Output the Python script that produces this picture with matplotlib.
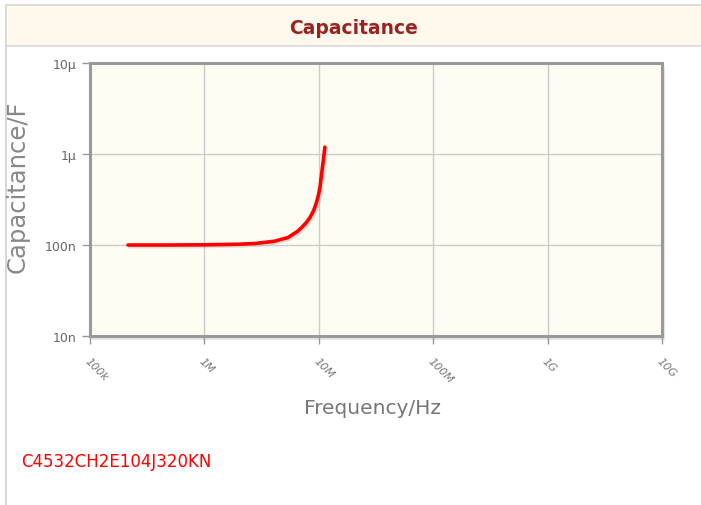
import matplotlib
matplotlib.use('Agg')
import matplotlib.pyplot as plt
import matplotlib.patheffects as pe
from matplotlib.patches import Rectangle
from matplotlib.lines import Line2D

# Values
freq_hz = [215e3, 500e3, 1e6, 2e6, 2.8e6, 4.1e6, 5.4e6, 6.6e6, 7.09e6, 7.8e6,
           8.38e6, 9.0e6, 9.45e6, 9.9e6, 10.24e6, 10.45e6, 10.67e6, 10.9e6, 11.3e6]
cap_f = [100e-9, 100e-9, 100.5e-9, 102e-9, 104e-9, 110e-9, 121e-9, 143e-9, 156e-9, 177e-9,
         201e-9, 238e-9, 282e-9, 348e-9, 431e-9, 531e-9, 655e-9, 811e-9, 1.19e-6]

x_ticks = [1e5, 1e6, 1e7, 1e8, 1e9, 1e10]
x_labels = ['100k', '1M', '10M', '100M', '1G', '10G']
y_ticks = [1e-8, 1e-7, 1e-6, 1e-5]
y_labels = ['10n', '100n', '1\u00b5', '10\u00b5']

title = 'Capacitance'
part_no = 'C4532CH2E104J320KN'

W, H = 701, 506
fig = plt.figure(figsize=(W / 100, H / 100), dpi=100)
fig.patch.set_facecolor('white')

# title band and page border
fig.patches.append(Rectangle((6 / W, 1 - 47 / H), 1, 41 / H, transform=fig.transFigure,
                             facecolor='#fef9ec', edgecolor='#d8d8d8', lw=1.2, zorder=-2))
fig.lines.append(Line2D([6 / W, 6 / W], [0, 1 - 6 / H], transform=fig.transFigure,
                        color='#d0d0d0', lw=1.2, zorder=-2))
fig.text(354 / W, 1 - 28 / H, title, ha='center', va='center', fontsize=13.5,
         fontweight='bold', color='#9b2222')

ax = fig.add_axes([90 / W, 1 - 337 / H, 572 / W, 273 / H])
# frame shadow
fig.patches.append(Rectangle((92 / W, 1 - 341 / H), 573 / W, 273 / H, transform=fig.transFigure,
                             facecolor='#e6e6e6', edgecolor='none', zorder=-1))
ax.set_facecolor('#fffcf4')
ax.set_xscale('log')
ax.set_yscale('log')
ax.set_xlim(1e5, 1e10)
ax.set_ylim(1e-8, 1e-5)
ax.minorticks_off()

ax.set_xticks(x_ticks)
ax.set_xticklabels(x_labels, rotation=-45, ha='left', va='top', rotation_mode='anchor',
                   fontsize=8, color='#777777', style='italic')
ax.set_yticks(y_ticks)
ax.set_yticklabels(y_labels, fontsize=9, color='#666666')
ax.tick_params(axis='both', length=6, width=1, color='#999999', pad=3)
ax.tick_params(axis='y', pad=4)
ax.tick_params(axis='x', pad=8)

ax.grid(True, color='#cccccc', lw=1)
ax.set_axisbelow(True)
for s in ax.spines.values():
    s.set_color('#999999')
    s.set_linewidth(2.2)

ax.plot(freq_hz, cap_f, color='#ff0000', lw=2.6, solid_capstyle='round',
        solid_joinstyle='round',
        path_effects=[pe.SimpleLineShadow(offset=(1.2, -1.2), shadow_color='#999999', alpha=0.3),
                      pe.Normal()])

ax.set_xlabel('Frequency/Hz', fontsize=14.5, color='#777777')
ax.set_ylabel('Capacitance/F', fontsize=17.5, color='#888888')
ax.xaxis.set_label_coords((373 - 90) / 572, (337 - 409) / 273)
ax.yaxis.set_label_coords((18 - 90) / 572, (337 - 187) / 273)
ax.xaxis.label.set_va('center')
ax.yaxis.label.set_va('center')

fig.text(21 / W, 1 - 462 / H, part_no, ha='left', va='center', fontsize=12, color='#ff0000')

fig.savefig('out.png', dpi=100)
